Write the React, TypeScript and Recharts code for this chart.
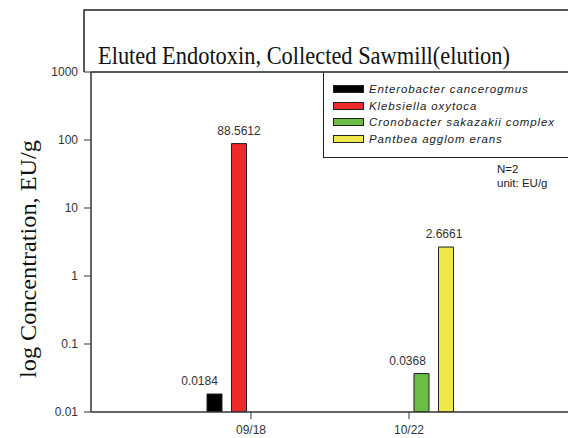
import React from "react";
import {
  BarChart,
  Bar,
  XAxis,
  YAxis,
  ReferenceLine,
  LabelList,
  Customized,
} from "recharts";

// sampling dates
const dates = ["09/18", "10/22"];

// endotoxin per organism, EU/g (null = not detected)
const enterobacter = [0.0184, null];
const klebsiella = [88.5612, null];
const cronobacter = [null, 0.0368];
const pantoea = [null, 2.6661];

const yTicks = [0.01, 0.1, 1, 10, 100, 1000];

const series = [
  { key: "ent", name: "Enterobacter cancerogmus", values: enterobacter, color: "#000000", labelShift: -15 },
  { key: "kle", name: "Klebsiella oxytoca", values: klebsiella, color: "#ee2a2a", labelShift: 0 },
  { key: "cro", name: "Cronobacter sakazakii complex", values: cronobacter, color: "#6abd45", labelShift: -14 },
  { key: "pan", name: "Pantbea agglom erans", values: pantoea, color: "#efe84a", labelShift: -2 },
];

const rows = dates.map((d, i) => {
  const row: Record<string, any> = { date: d };
  series.forEach((s) => {
    row[s.key] = s.values[i];
  });
  return row;
});

const W = 568;
const H = 438;
const INK = "#222";
const SANS = "'Liberation Sans', Arial, sans-serif";

function Decor() {
  return (
    <g>
      {/* title box */}
      <path d={`M84,72 L84,10 L${W + 10},10`} fill="none" stroke={INK} strokeWidth={1.5} />
      <text
        x={98}
        y={64}
        fontFamily="'Liberation Serif', serif"
        fontSize={25}
        fill="#111"
        textLength={412}
        lengthAdjust="spacingAndGlyphs"
      >
        Eluted Endotoxin, Collected Sawmill(elution)
      </text>
      {/* y axis title */}
      <text
        x={36}
        y={259}
        transform="rotate(-90, 36, 259)"
        textAnchor="middle"
        fontFamily="'Liberation Serif', serif"
        fontSize={23}
        fill="#111"
        textLength={238}
        lengthAdjust="spacingAndGlyphs"
      >
        log Concentration, EU/g
      </text>
      <text x={497} y={173} fontFamily={SANS} fontSize={11.5} fill="#222">
        N=2
      </text>
      <text x={497} y={187} fontFamily={SANS} fontSize={11.5} fill="#222">
        unit: EU/g
      </text>
    </g>
  );
}

function makeLabel(shift: number) {
  return (props: any) => {
    const { x, y, width, value } = props;
    if (value == null) return null;
    return (
      <text
        x={Number(x) + Number(width) / 2 + shift}
        y={Number(y) - 9}
        textAnchor="middle"
        fontFamily={SANS}
        fontSize={12}
        fill="#333"
      >
        {value}
      </text>
    );
  };
}

function LegendBox() {
  return (
    <div
      style={{
        position: "absolute",
        left: 323,
        top: 72,
        width: 260,
        height: 86,
        borderLeft: `1.5px solid ${INK}`,
        borderBottom: `1.5px solid ${INK}`,
        boxSizing: "border-box",
        paddingTop: 9,
        fontFamily: SANS,
        fontStyle: "italic",
        fontSize: 11.5,
        color: "#222",
      }}
    >
      {series.map((s) => (
        <div key={s.key} style={{ display: "flex", alignItems: "center", height: 16.6 }}>
          <span
            style={{
              display: "inline-block",
              width: 31,
              height: 8,
              marginLeft: 9,
              marginRight: 5,
              background: s.color,
              border: `1px solid ${INK}`,
              boxSizing: "border-box",
            }}
          />
          <span style={{ letterSpacing: 0.9 }}>{s.name}</span>
        </div>
      ))}
    </div>
  );
}

export default function App() {
  return (
    <div style={{ position: "relative", width: W, height: H, overflow: "hidden", background: "#fff" }}>
      <style>{"html,body{margin:0;padding:0;overflow:hidden}"}</style>
      <BarChart
        width={W}
        height={H}
        data={rows}
        margin={{ top: 72, right: 0, bottom: 0, left: 0 }}
        barSize={15}
        barGap={9.5}
      >
        <XAxis
          dataKey="date"
          height={26}
          padding={{ left: 81, right: 80 }}
          axisLine={{ stroke: "#333", strokeWidth: 1.5 }}
          tickLine={{ stroke: "#333" }}
          tickSize={7}
          tickMargin={6}
          tick={{ fontSize: 12, fill: "#333", fontFamily: SANS }}
        />
        <YAxis
          scale="log"
          domain={[0.01, 1000]}
          ticks={yTicks}
          allowDataOverflow
          width={91}
          axisLine={{ stroke: "#333", strokeWidth: 1.5 }}
          tickLine={{ stroke: "#333" }}
          tickSize={7}
          tickMargin={6}
          interval={0}
          tickFormatter={(v: number) => String(v)}
          tick={{ fontSize: 12, fill: "#333", fontFamily: SANS }}
        />
        <ReferenceLine y={1000} stroke={INK} strokeWidth={1.5} />
        {series.map((s) => (
          <Bar
            key={s.key}
            dataKey={s.key}
            name={s.name}
            fill={s.color}
            stroke={INK}
            strokeWidth={1}
            isAnimationActive={false}
          >
            <LabelList dataKey={s.key} content={makeLabel(s.labelShift)} />
          </Bar>
        ))}
        <Customized component={<Decor />} />
      </BarChart>
      <LegendBox />
    </div>
  );
}
